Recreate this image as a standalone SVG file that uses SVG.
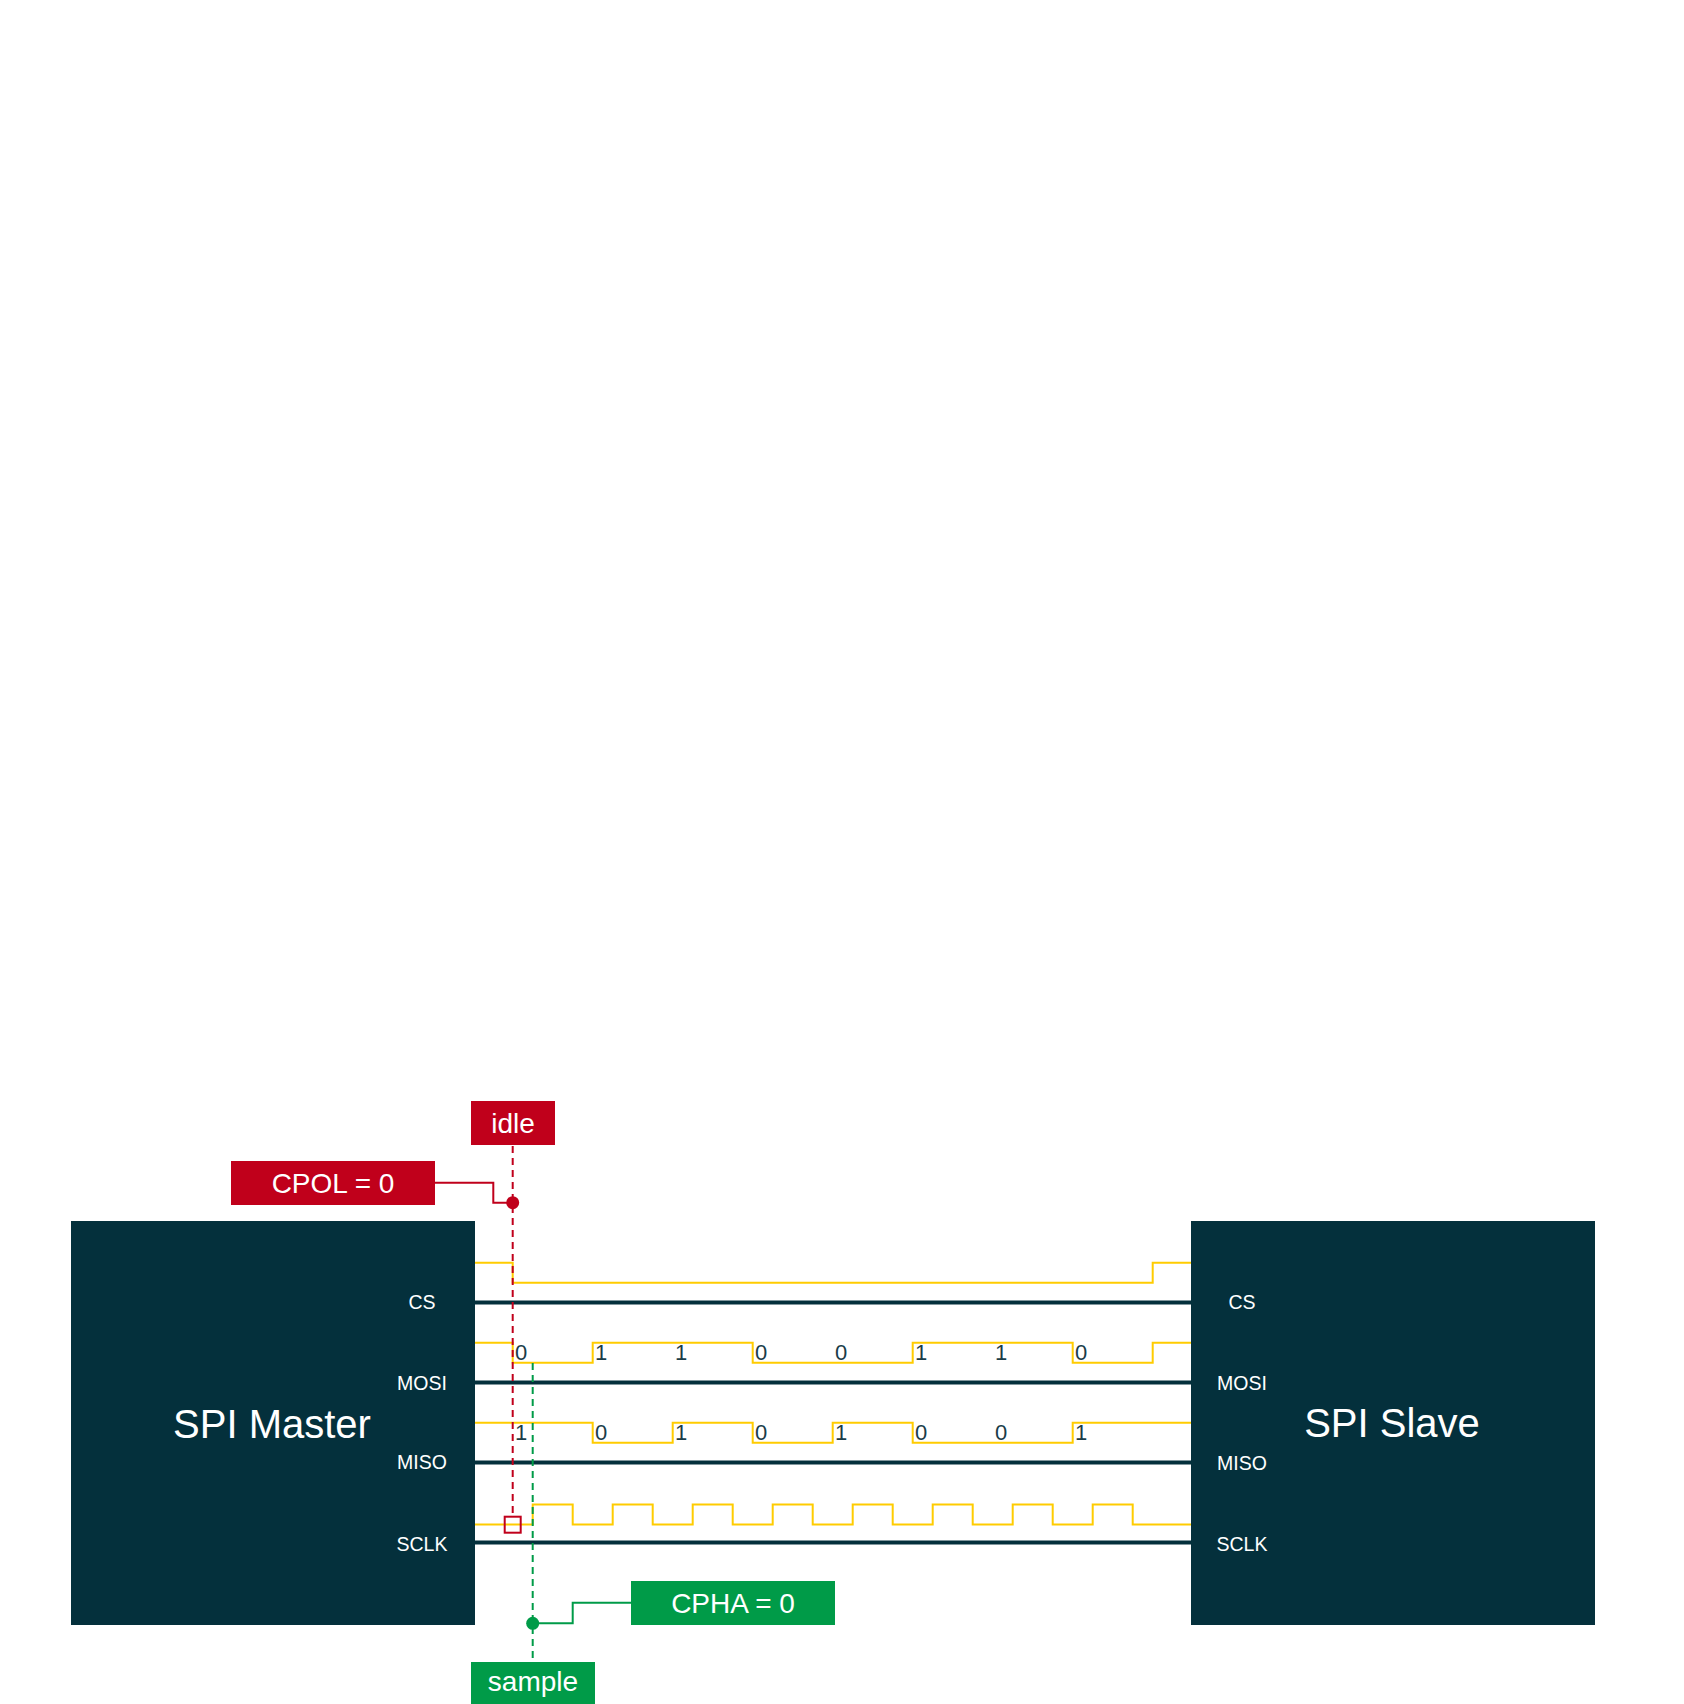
<svg xmlns="http://www.w3.org/2000/svg" width="1684" height="1704" viewBox="0 0 1684 1704">
<style>
  .box { fill: #04303c; }
  .title { font-family: "Liberation Sans", Arial, sans-serif; font-size: 40px; fill: #ffffff; text-anchor: middle; }
  .port { font-family: "Liberation Sans", Arial, sans-serif; font-size: 19.5px; fill: #ffffff; text-anchor: middle; }
  .bus { stroke: #04303c; stroke-width: 4; fill: none; }
  .sig { stroke: #ffcc00; stroke-width: 2; fill: none; }
  .bit { font-family: "Liberation Sans", Arial, sans-serif; font-size: 22px; fill: #1a3c48; }
  .lbl { font-family: "Liberation Sans", Arial, sans-serif; font-size: 28px; fill: #ffffff; text-anchor: middle; }
  .red { fill: #c0001b; }
  .green { fill: #009b48; }
  .redline { stroke: #c0001b; stroke-width: 2; fill: none; }
  .greenline { stroke: #009b48; stroke-width: 2; fill: none; }
  .dash { stroke-dasharray: 7 5; }
</style>
<rect width="1684" height="1704" fill="#ffffff"/>

<g id="master">
  <rect class="box" x="71" y="1221" width="404" height="404"/>
  <text class="title" x="272" y="1438">SPI Master</text>
  <text class="port" x="422" y="1309">CS</text>
  <text class="port" x="422" y="1390">MOSI</text>
  <text class="port" x="422" y="1469">MISO</text>
  <text class="port" x="422" y="1551">SCLK</text>
</g>

<g id="slave">
  <rect class="box" x="1191" y="1221" width="404" height="404"/>
  <text class="title" x="1392" y="1437">SPI Slave</text>
  <text class="port" x="1242" y="1309">CS</text>
  <text class="port" x="1242" y="1390">MOSI</text>
  <text class="port" x="1242" y="1470">MISO</text>
  <text class="port" x="1242" y="1551">SCLK</text>
</g>

<g id="connectors">
  <line class="bus" x1="475" y1="1302.5" x2="1191" y2="1302.5"/>
  <line class="bus" x1="475" y1="1382.5" x2="1191" y2="1382.5"/>
  <line class="bus" x1="475" y1="1462.5" x2="1191" y2="1462.5"/>
  <line class="bus" x1="475" y1="1542.5" x2="1191" y2="1542.5"/>
</g>

<g id="signals">
  <path class="sig" d="M475 1262.7 H512.7 V1282.7 H1152.7 V1262.7 H1191"/>
  <path class="sig" d="M475 1342.7 H512.7 V1362.7 H592.7 V1342.7 H752.7 V1362.7 H912.7 V1342.7 H1072.7 V1362.7 H1152.7 V1342.7 H1191"/>
  <path class="sig" d="M475 1422.7 H592.7 V1442.7 H672.7 V1422.7 H752.7 V1442.7 H832.7 V1422.7 H912.7 V1442.7 H1072.7 V1422.7 H1191"/>
  <path class="sig" d="M475 1524.5 H532.7 V1504.5 H572.7 V1524.5 H612.7 V1504.5 H652.7 V1524.5 H692.7 V1504.5 H732.7 V1524.5 H772.7 V1504.5 H812.7 V1524.5 H852.7 V1504.5 H892.7 V1524.5 H932.7 V1504.5 H972.7 V1524.5 H1012.7 V1504.5 H1052.7 V1524.5 H1092.7 V1504.5 H1132.7 V1524.5 H1191"/>
</g>

<g id="mosi-bits">
  <text class="bit" x="515" y="1360">0</text>
  <text class="bit" x="595" y="1360">1</text>
  <text class="bit" x="675" y="1360">1</text>
  <text class="bit" x="755" y="1360">0</text>
  <text class="bit" x="835" y="1360">0</text>
  <text class="bit" x="915" y="1360">1</text>
  <text class="bit" x="995" y="1360">1</text>
  <text class="bit" x="1075" y="1360">0</text>
</g>
<g id="miso-bits">
  <text class="bit" x="515" y="1440">1</text>
  <text class="bit" x="595" y="1440">0</text>
  <text class="bit" x="675" y="1440">1</text>
  <text class="bit" x="755" y="1440">0</text>
  <text class="bit" x="835" y="1440">1</text>
  <text class="bit" x="915" y="1440">0</text>
  <text class="bit" x="995" y="1440">0</text>
  <text class="bit" x="1075" y="1440">1</text>
</g>

<g id="idle-marker">
  <line class="redline dash" x1="512.7" y1="1146" x2="512.7" y2="1516.7"/>
  <rect x="504.7" y="1516.7" width="16" height="16" fill="none" stroke="#c0001b" stroke-width="2"/>
</g>
<g id="cpol-link">
  <path class="redline" d="M435 1182.7 H493.3 V1202.7 H512.7"/>
  <circle class="red" cx="512.7" cy="1202.7" r="6.5"/>
</g>
<g id="idle">
  <rect class="red" x="471" y="1101" width="84" height="44"/>
  <text class="lbl" x="513" y="1132.5">idle</text>
</g>
<g id="cpol">
  <rect class="red" x="231" y="1161" width="204" height="44"/>
  <text class="lbl" x="333" y="1192.5">CPOL = 0</text>
</g>

<g id="sample-marker">
  <line class="greenline dash" x1="532.7" y1="1363" x2="532.7" y2="1662"/>
</g>
<g id="cpha-link">
  <path class="greenline" d="M631 1602.7 H572.7 V1623.3 H532.7"/>
  <circle class="green" cx="532.7" cy="1623.3" r="6.5"/>
</g>
<g id="cpha">
  <rect class="green" x="631" y="1581" width="204" height="44"/>
  <text class="lbl" x="733" y="1612.5">CPHA = 0</text>
</g>
<g id="sample">
  <rect class="green" x="471" y="1662" width="124" height="44"/>
  <text class="lbl" x="533" y="1691">sample</text>
</g>
</svg>
